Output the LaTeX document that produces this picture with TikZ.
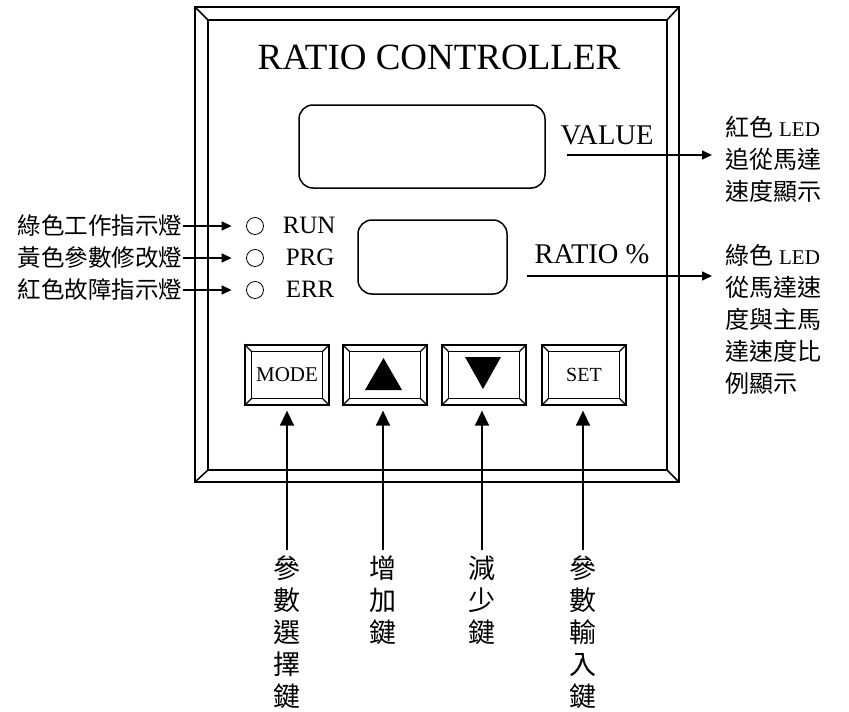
\documentclass[tikz,border=0pt]{standalone}
\usepackage{fontspec}
\setmainfont{Liberation Serif}
\newfontfamily\cjk{Noto Sans CJK TC}
\usetikzlibrary{arrows.meta,positioning}

\begin{document}
\begin{tikzpicture}[x=1pt, y=-1pt, line width=1.5pt,
    tip/.style={-{Triangle[length=10pt,width=9pt]}},
    bigtip/.style={-{Triangle[length=15pt,width=14pt]}},
    keybox/.style={draw, line width=1.3pt, minimum width=84pt, minimum height=60pt,
                   inner sep=0pt, font=\fontsize{21}{21}\selectfont},
    lcd/.style={draw, rounded corners=14pt, inner sep=0pt},
    led/.style={circle, draw, line width=0.8pt, minimum size=17pt, inner sep=0pt},
    tag/.style={inner sep=0pt, font=\fontsize{25}{25}\selectfont},
    zh/.style={inner sep=0pt, font=\cjk\fontsize{23.5}{32}\selectfont},
    zhr/.style={inner sep=0pt, align=left, font=\cjk\fontsize{24}{32}\selectfont},
    zhv/.style={inner sep=0pt, align=center, font=\cjk\fontsize{27}{32}\selectfont}]
    \useasboundingbox (0,0) rectangle (849,712);

    % Frame
    \draw (195,7) rectangle (679,482);
    \draw (208,20) rectangle (667,470);
    \draw (195,7) -- (208,20) (679,7) -- (667,20) (195,482) -- (208,470) (679,482) -- (667,470);
    \node[inner sep=0pt, font=\fontsize{37}{37}\selectfont] (title) at (439,57) {RATIO CONTROLLER};

    % Displays
    \node[lcd, minimum width=246pt, minimum height=83pt] (valuedisp) at (422,146.5) {};
    \node[lcd, minimum width=149pt, minimum height=74pt] (ratiodisp) at (432.5,257) {};
    \node[inner sep=0pt, font=\fontsize{28.5}{28.5}\selectfont] (valuetxt) at (607,135.5) {VALUE};
    \node[inner sep=0pt, font=\fontsize{28.5}{28.5}\selectfont] (ratiotxt) at (592,254) {RATIO \%};
    \coordinate (valuetail) at (567,155);
    \coordinate (ratiotail) at (527,276);

    % LEDs
    \node[led] (runled) at (255,226) {};
    \node[led] (prgled) at (255,258) {};
    \node[led] (errled) at (255,290) {};
    \node[tag, anchor=base west] (runtxt) at (282,233) {RUN};
    \node[tag, anchor=base west] (prgtxt) at (285,265) {PRG};
    \node[tag, anchor=base west] (errtxt) at (285,297) {ERR};
    \node[zh, anchor=east] (runlbl) at (183,226) {綠色工作指示燈};
    \node[zh, anchor=east] (prglbl) at (183,258) {黃色參數修改燈};
    \node[zh, anchor=east] (errlbl) at (183,290) {紅色故障指示燈};
    \foreach \nm in {run,prg,err}
        \draw[tip, shorten >=14.5pt] (\nm lbl.east) -- (\nm led.west);

    % Keys
    \foreach \nm/\cx/\txt in {mode/287/MODE, up/385/, down/484/, set/584/{\fontsize{20}{20}\selectfont SET}} {
        \node[keybox] (key\nm) at (\cx,375) {\txt};
        \draw[line width=1.3pt] ([shift={(7pt,-7pt)}]key\nm.north west) rectangle ([shift={(-7pt,7pt)}]key\nm.south east);
        \draw[line width=1.3pt] (key\nm.north west) -- ++(7pt,-7pt) (key\nm.north east) -- ++(-7pt,-7pt)
            (key\nm.south west) -- ++(7pt,7pt) (key\nm.south east) -- ++(-7pt,7pt);
    }
    \fill ([xshift=-1.5pt]keyup.center) ++(0pt,17pt) -- ++(18.5pt,-32pt) -- ++(-37pt,0pt) -- cycle;
    \fill ([xshift=-1pt]keydown.center) ++(-18pt,18pt) -- ++(36pt,0pt) -- ++(-18pt,-32pt) -- cycle;

    % Right labels
    \node[zhr, anchor=north west] (redled) at (725,116) {紅色 {\rmfamily\fontsize{21}{32}\selectfont LED}\\追從馬達\\速度顯示};
    \node[zhr, anchor=north west] (greenled) at (725,244) {綠色 {\rmfamily\fontsize{21}{32}\selectfont LED}\\從馬達速\\度與主馬\\達速度比\\例顯示};
    \draw[tip, shorten >=13pt] (valuetail) -- (valuetail -| redled.west);
    \draw[tip, shorten >=13pt] (ratiotail) -- (ratiotail -| greenled.west);

    % Bottom labels
    \node[zhv, anchor=north] (lblmode) at (287,555) {參\\數\\選\\擇\\鍵};
    \node[zhv, anchor=north] (lblup) at (383,555) {增\\加\\鍵};
    \node[zhv, anchor=north] (lbldown) at (482,555) {減\\少\\鍵};
    \node[zhv, anchor=north] (lblset) at (583,555) {參\\數\\輸\\入\\鍵};
    \foreach \nm in {mode,up,down,set}
        \draw[bigtip] ([yshift=5pt]lbl\nm.north) -- ([yshift=-5pt]lbl\nm.north |- key\nm.south);
\end{tikzpicture}
\end{document}
